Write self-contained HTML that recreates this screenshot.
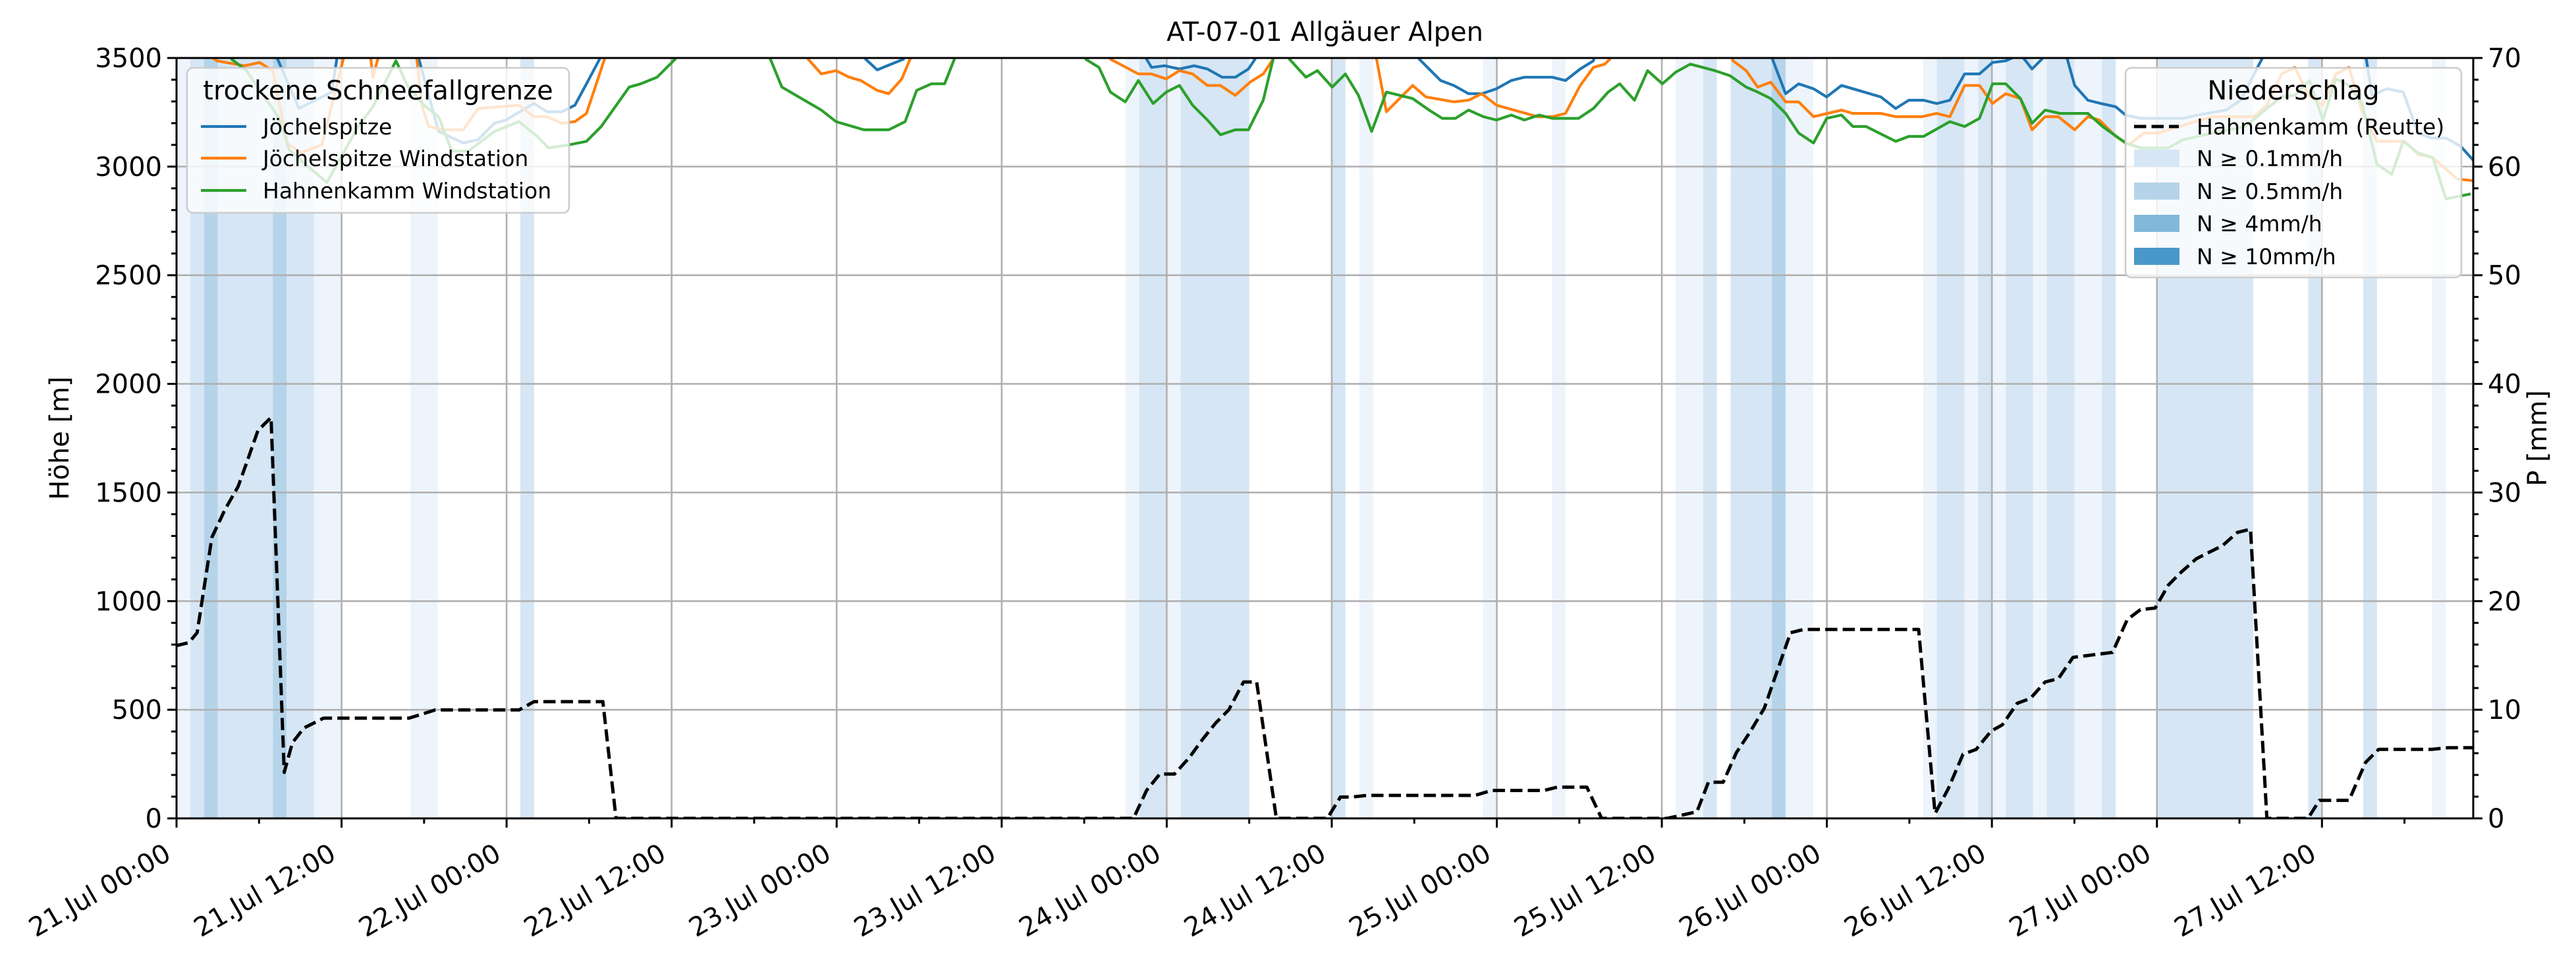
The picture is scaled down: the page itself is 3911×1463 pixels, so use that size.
<!DOCTYPE html>
<html><head><meta charset="utf-8"><style>
html,body{margin:0;padding:0;background:#fff;}
svg{display:block;font-family:"DejaVu Sans","Liberation Sans",sans-serif;}
</style></head><body>
<svg id="c" width="3911" height="1463" viewBox="0 0 3911 1463" xmlns="http://www.w3.org/2000/svg"></svg>
<script>
const L=268,R=3755,T=88,B=1242,K=2.494,PH=(R-L)/167;
const yM=v=>B-(v/3500)*(B-T);
let s='<defs><clipPath id="cp"><rect x="'+L+'" y="'+T+'" width="'+(R-L)+'" height="'+(B-T)+'"/></clipPath></defs>';
s+='<rect width="3911" height="1463" fill="#fff"/>';
const bands=[[0,1,'v'],[1,2,'l'],[2,3,'m'],[3,7,'l'],[7,8,'m'],[8,10,'l'],[10,12,'v'],[17,19,'v'],[25,26,'l'],[69,70,'v'],[70,72,'l'],[72,73,'v'],[73,78,'l'],[84,85,'l'],[86,87,'v'],[95,96,'v'],[100,101,'v'],[109,111,'v'],[111,112,'l'],[113,116,'l'],[116,117,'m'],[117,119,'v'],[127,128,'v'],[128,130,'l'],[130,131,'v'],[131,132,'l'],[132,133,'v'],[133,135,'l'],[135,136,'v'],[136,138,'l'],[138,140,'v'],[140,141,'l'],[144,151,'l'],[155,156,'l'],[159,160,'l'],[164,165,'v']];
const bc={v:'#eef4fb',l:'#d6e6f4',m:'#b5d4e9'};
for(const b of bands){const x0=L+b[0]*PH,x1=L+b[1]*PH;s+=`<rect x="${x0.toFixed(1)}" y="${T}" width="${(x1-x0).toFixed(1)}" height="${B-T}" fill="${bc[b[2]]}"/>`;}
// grid
for(let k=1;k<7;k++){const y=yM(k*500);s+=`<line x1="${L}" x2="${R}" y1="${y}" y2="${y}" stroke="#b0b0b0" stroke-width="2.6"/>`;}
for(let k=1;k<14;k++){const x=L+k*12*PH;s+=`<line x1="${x}" x2="${x}" y1="${T}" y2="${B}" stroke="#b0b0b0" stroke-width="2.6"/>`;}
function poly(pts,col,w,extra){return `<polyline clip-path="url(#cp)" fill="none" stroke="${col}" stroke-width="${w}" stroke-linejoin="round" ${extra||''} points="${pts.map(p=>(p[0]*K).toFixed(1)+','+(p[1]*K).toFixed(1)).join(' ')}"/>`;}
const blue=[[107,20],[165,20],[169,36],[182,66],[202,56],[205,36],[208,20],[252,20],[255,36],[267,80],[282,87],[291,85],[301,75],[308,73],[325,63],[333,68],[342,68],[350,64],[357,51],[365,36],[368,20],[524,20],[527,36],[534,42.5],[550,36],[553,20],[695,20],[698,36],[701,41],[709,40],[718,42],[727,40],[735,42],[744,47],[752,47],[760,42],[764,36],[767,20],[861,20],[864,36],[870,42],[877,49],[885,52],[894,57],[902,57],[911,54],[920,49],[928,47],[945,47],[953,49],[962,42],[970,37],[973,20],[1076,20],[1079,36],[1087,57],[1095,51],[1104,54],[1112,59],[1121,52],[1128,54],[1145,59],[1154,66],[1162,61],[1171,61],[1179,63],[1187,61],[1196,45],[1205,45],[1213,38],[1221,37],[1230,33],[1237,42],[1245,34],[1254,20],[1263,52],[1271,61],[1279,63],[1288,65],[1294,70],[1303,72],[1329,72],[1338,70],[1355,67],[1364,61],[1380,30],[1438,20],[1444,58],[1453,54],[1463,56],[1472,81],[1480,84],[1489,84],[1498,89],[1506,98]];
const orange=[[107,20],[128,34],[132,37],[149,40],[158,38],[166,43],[175,87],[183,93],[196,88],[207,44],[209,36],[212,20],[224,20],[227,47],[230,36],[233,20],[252,20],[257,65],[261,77],[270,79],[282,79],[291,66],[304,65],[316,64],[325,71],[333,71],[342,75],[350,74],[357,69],[368,36],[371,20],[489,20],[492,36],[500,45],[509,43],[517,47],[524,49],[534,55],[541,57],[549,48],[554,36],[557,20],[673,20],[676,36],[693,45],[701,45],[710,48],[718,43],[726,45],[735,52],[743,52],[752,58],[761,50],[769,45],[775,36],[778,20],[836,20],[838,36],[844,68],[860,52],[868,59],[885,62],[894,61],[902,57],[911,64],[936,71],[945,71],[953,69],[962,52],[970,41],[977,39],[980,36],[983,20],[1050,20],[1055,37],[1063,43],[1070,53],[1078,50],[1087,62],[1095,62],[1104,71],[1121,67],[1128,69],[1145,69],[1154,71],[1170,71],[1179,69],[1187,71],[1196,52],[1205,52],[1213,63],[1221,57],[1230,60],[1237,79],[1245,71],[1253,71],[1263,79],[1271,71],[1278,73],[1288,83],[1296,88],[1305,81],[1314,81],[1336,74],[1347,71],[1372,71],[1380,64],[1389,45],[1397,41],[1406,59],[1414,64],[1422,45],[1430,41],[1438,68],[1447,86],[1464,86],[1472,94],[1481,96],[1496,109],[1506,110]];
const green=[[107,20],[138,20],[141,36],[150,43],[170,72],[176,91],[187,101],[199,111],[208,95],[218,77],[227,65],[241,37],[248,52],[258,64],[267,71],[275,92],[285,92],[301,80],[316,74],[327,83],[334,90],[347,88],[357,86],[366,77],[383,53],[390,51],[400,47],[411,36],[414,20],[466,20],[469,36],[476,53],[500,67],[509,74],[526,79],[541,79],[551,74],[558,55],[567,51],[575,51],[581,36],[584,20],[658,20],[661,36],[669,41],[676,56],[685,62],[693,49],[702,63],[710,56],[718,52],[726,64],[735,73],[743,82],[752,79],[760,79],[769,61],[775,36],[778,20],[782,20],[785,36],[795,47],[802,43],[811,53],[819,45],[827,58],[835,80],[844,56],[860,60],[870,67],[878,72],[886,72],[894,67],[903,71],[911,73],[920,70],[928,73],[937,70],[945,72],[961,72],[970,66],[979,56],[986,51],[995,61],[1003,43],[1012,51],[1020,44],[1029,39],[1044,43],[1053,46],[1063,53],[1070,56],[1078,60],[1087,69],[1095,81],[1104,87],[1112,72],[1121,70],[1128,77],[1136,77],[1154,86],[1162,83],[1171,83],[1187,74],[1196,77],[1205,72],[1213,51],[1221,51],[1230,60],[1237,75],[1245,67],[1254,69],[1271,69],[1280,77],[1294,87],[1303,90],[1320,90],[1329,85],[1347,81],[1367,77],[1380,66],[1389,59],[1397,58],[1406,49],[1414,73],[1422,48],[1430,52],[1438,63],[1447,100],[1456,106],[1463,86],[1472,93],[1481,96],[1489,121],[1504,118]];
const dash=[[107,393],[115,391],[120,385],[129,327],[137,310],[145,296],[150,282],[157,262],[165,254],[173,470],[178,452],[185,443],[197,437],[249,437],[265,432],[316,432],[325,427],[367,427],[375,498],[690,498],[698,481],[706,471],[715,471],[724,461],[732,450],[740,440],[748,432],[757,415],[765,415],[777,498],[808,498],[816,485],[823,485],[832,484],[898,484],[908,481],[940,481],[948,479],[966,479],[975,498],[1015,498],[1033,494],[1040,476],[1049,476],[1057,458],[1065,446],[1074,431],[1082,408],[1090,385],[1098,383],[1168,383],[1178,495],[1186,480],[1195,459],[1203,456],[1212,445],[1219,441],[1228,428],[1236,425],[1245,415],[1253,413],[1262,400],[1270,399],[1278,398],[1286,397],[1295,377],[1303,371],[1312,370],[1320,356],[1328,348],[1337,340],[1345,336],[1353,332],[1362,324],[1370,322],[1380,498],[1405,498],[1412,487],[1430,487],[1440,464],[1448,456],[1480,456],[1490,455],[1505,455]];
s+=poly(blue,'#1f77b4',4.2)+poly(orange,'#ff7f0e',4.2)+poly(green,'#2ca02c',4.2);
s+=poly(dash,'#000',5,'stroke-dasharray="18.5,8"');
// spines
s+=`<rect x="${L}" y="${T}" width="${R-L}" height="${B-T}" fill="none" stroke="#000" stroke-width="3"/>`;
// y ticks left
for(let v=0;v<=3500;v+=100){const y=yM(v),maj=v%500==0;s+=`<line x1="${L}" x2="${L-(maj?14:8)}" y1="${y}" y2="${y}" stroke="#000" stroke-width="3"/>`;if(maj)s+=`<text x="${L-22}" y="${y+14}" font-size="40" text-anchor="end">${v}</text>`;}
for(let v=0;v<=70;v+=2){const y=B-(v/70)*(B-T),maj=v%10==0;s+=`<line x1="${R}" x2="${R+(maj?14:8)}" y1="${y}" y2="${y}" stroke="#000" stroke-width="3"/>`;if(maj)s+=`<text x="${R+22}" y="${y+14}" font-size="40">${v}</text>`;}
const days=['21','21','22','22','23','23','24','24','25','25','26','26','27','27'];
for(let h=0;h<=167;h+=6){const x=L+h*PH,maj=h%12==0;s+=`<line x1="${x}" x2="${x}" y1="${B}" y2="${B+(maj?14:8)}" stroke="#000" stroke-width="3"/>`;if(maj){const i=h/12;s+=`<text transform="translate(${x-6},${1303}) rotate(-30)" font-size="40" text-anchor="end">${days[i]}.Jul ${i%2?'12:00':'00:00'}</text>`;}}
s+=`<text x="${(L+R)/2}" y="62" font-size="40" text-anchor="middle">AT-07-01 Allgäuer Alpen</text>`;
s+=`<text transform="translate(104,665) rotate(-90)" font-size="40" text-anchor="middle">Höhe [m]</text>`;
s+=`<text transform="translate(3866,665) rotate(-90)" font-size="40" text-anchor="middle">P [mm]</text>`;
// legend 1
s+=`<rect x="284" y="103" width="580" height="220" rx="9" fill="#fff" fill-opacity="0.8" stroke="#cccccc" stroke-width="2.6"/>`;
s+=`<text x="574" y="151" font-size="40" text-anchor="middle">trockene Schneefallgrenze</text>`;
[['Jöchelspitze','#1f77b4',192],['Jöchelspitze Windstation','#ff7f0e',240],['Hahnenkamm Windstation','#2ca02c',289]].forEach(e=>{s+=`<line x1="305" x2="374" y1="${e[2]}" y2="${e[2]}" stroke="${e[1]}" stroke-width="4.2"/><text x="399" y="${e[2]+12}" font-size="33">${e[0]}</text>`;});
// legend 2
s+=`<rect x="3227" y="103" width="510" height="318" rx="9" fill="#fff" fill-opacity="0.8" stroke="#cccccc" stroke-width="2.6"/>`;
s+=`<text x="3482" y="151" font-size="40" text-anchor="middle">Niederschlag</text>`;
s+=`<line x1="3240" x2="3308" y1="192" y2="192" stroke="#000" stroke-width="5" stroke-dasharray="18.5,8"/><text x="3335" y="204" font-size="33">Hahnenkamm (Reutte)</text>`;
[['N ≥ 0.1mm/h','#d6e6f4',240],['N ≥ 0.5mm/h','#b5d4e9',290],['N ≥ 4mm/h','#82b8d9',339],['N ≥ 10mm/h','#4a98c9',389]].forEach(e=>{s+=`<rect x="3240" y="${e[2]-13}" width="69" height="26" fill="${e[1]}"/><text x="3335" y="${e[2]+12}" font-size="33">${e[0]}</text>`;});
document.getElementById('c').innerHTML=s;
</script>
</body></html>
